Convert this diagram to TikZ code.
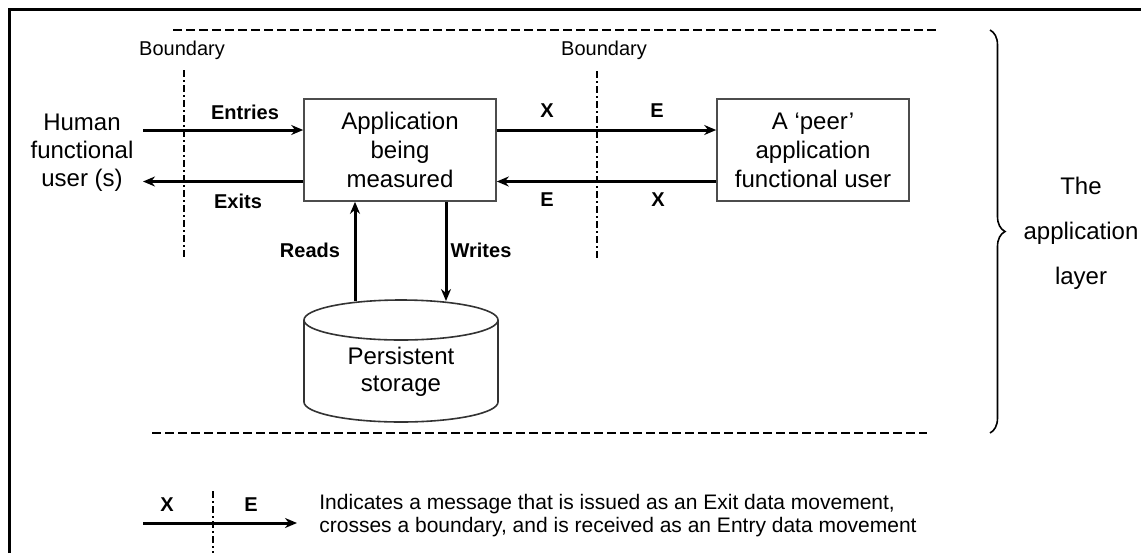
\documentclass[tikz,border=0pt]{standalone}
\usepackage{fontspec}
\setmainfont{Liberation Sans}
\usetikzlibrary{arrows.meta,decorations.pathreplacing}

\begin{document}
\begin{tikzpicture}[x=0.5pt,y=-0.5pt,
    box/.style={draw=black!70,line width=0.8pt,minimum width=96pt,minimum height=51pt,
      align=center,inner sep=0pt,font=\fontsize{12}{14.5}\selectfont},
    flow/.style={line width=1.5pt,-{Stealth[length=6pt,width=5pt]}},
    bound/.style={line width=1.2pt,dash pattern=on 3.5pt off 1.5pt on 1pt off 1.5pt},
    sep/.style={line width=1pt,dash pattern=on 4.5pt off 2pt},
    lbl/.style={inner sep=0pt,font=\fontsize{10}{12}\selectfont\bfseries},
    txt/.style={inner sep=0pt,align=center,font=\fontsize{12}{14}\selectfont}]
  \useasboundingbox (0,0) rectangle (1141,553);
  \draw[line width=1.5pt] (9,553) -- (9,9.5) -- (1141,9.5);
  % layer limits
  \draw[sep] (173,29.5) -- (940,29.5);
  \draw[sep] (152,433) -- (927,433);
  \draw[decorate,decoration={brace,amplitude=7.5pt},line width=0.8pt] (990,30) -- (990,433);
  \node[inner sep=0pt,align=center,font=\fontsize{12}{22.5}\selectfont] (layer) at (1081,233) {The\\application\\layer};

  % boundaries
  \node[inner sep=0pt,font=\fontsize{10}{12}\selectfont] (bnda) at (182,50) {Boundary};
  \node[inner sep=0pt,font=\fontsize{10}{12}\selectfont] (bndb) at (604,50) {Boundary};
  \draw[bound] (184,70) -- (184,258);
  \draw[bound] (597,71) -- (597,258);

  % users and application
  \node[txt] (human) at (82,153) {Human\\functional\\user (s)};
  \node[box] (app) at (400,150) {Application\\being\\measured};
  \node[box] (peer) at (813,150) {A `peer'\\application\\functional user};

  % persistent storage
  \draw[black!80,line width=0.8pt] (304,320) -- (304,402)
    arc[start angle=180,end angle=0,x radius=97,y radius=20] -- (498,320);
  \draw[black!80,line width=0.8pt] (401,320) ellipse[x radius=97,y radius=20];
  \coordinate (stop) at (401,301);
  \node[txt,font=\fontsize{12}{13.5}\selectfont] (store) at (401,372) {Persistent\\storage};

  \coordinate (hin) at (143,130);
  \coordinate (hout) at (143,181.5);
  \draw[flow] (hin) -- (hin -| app.west);
  \draw[flow] (hout -| app.west) -- (hout);
  \draw[flow] (hin -| app.east) -- (hin -| peer.west);
  \draw[flow] (hout -| peer.west) -- (hout -| app.east);
  \draw[flow] ([xshift=-23pt]stop) -- ([xshift=-22.5pt]app.south);
  \draw[flow] ([xshift=23pt]app.south) -- ([xshift=22.5pt]stop);

  \node[lbl] (ent) at (245,112) {Entries};
  \node[lbl] (ext) at (238,201) {Exits};
  \node[lbl] (xa) at (547,111) {X};
  \node[lbl] (ea) at (657,111) {E};
  \node[lbl] (eb) at (547,200) {E};
  \node[lbl] (xb) at (658,200) {X};
  \node[lbl] (rd) at (310,250) {Reads};
  \node[lbl] (wr) at (481,250) {Writes};

  % legend
  \coordinate (lg) at (143,523);
  \draw[flow] (lg) -- ++(154,0);
  \draw[bound] (213,491) -- (213,553);
  \node[lbl] (xl) at (167,505) {X};
  \node[lbl] (el) at (251,505) {E};
  \node[inner sep=0pt,anchor=west,align=left,font=\fontsize{10.5}{11.5}\selectfont] (note) at (319,516)
    {Indicates a message that is issued as an Exit data movement,\\
     crosses a boundary, and is received as an Entry data movement};
\end{tikzpicture}
\end{document}
